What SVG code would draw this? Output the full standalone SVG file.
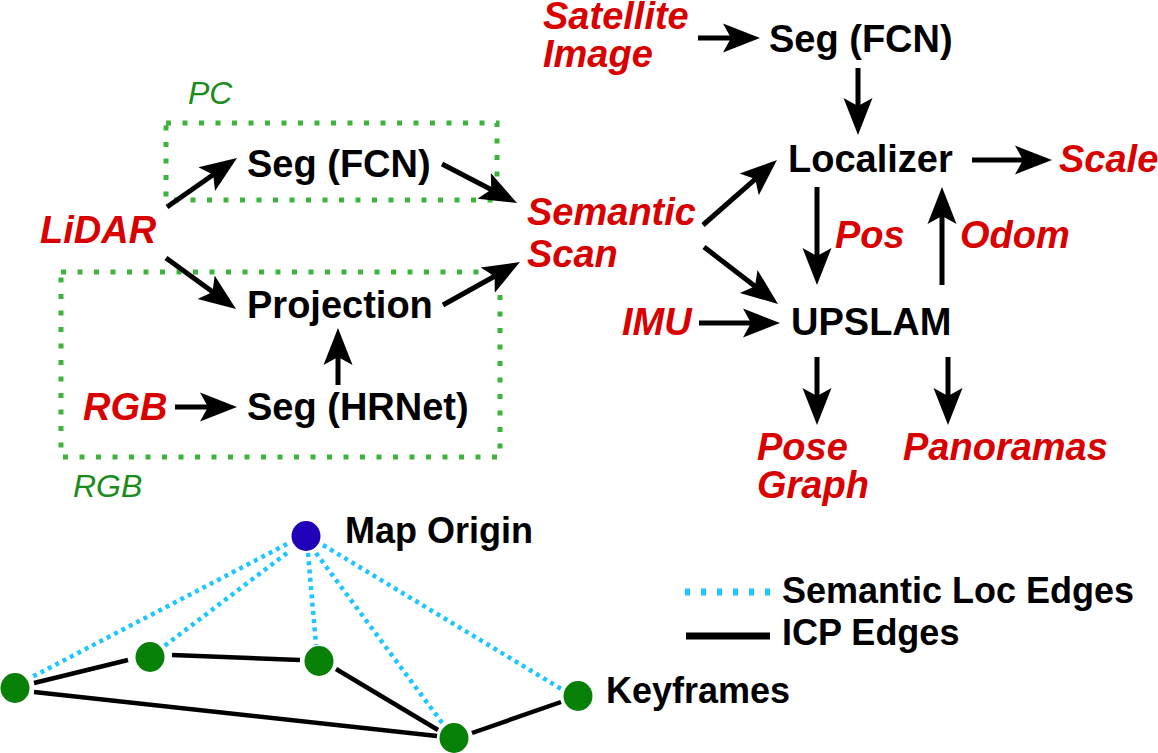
<svg xmlns="http://www.w3.org/2000/svg" width="1158" height="753" viewBox="0 0 1158 753">
<style>
.b{font-family:"Liberation Sans",Arial,sans-serif;font-weight:bold;font-size:38px;fill:#000}
.r{font-family:"Liberation Sans",Arial,sans-serif;font-weight:bold;font-style:italic;font-size:38px;fill:#d90000}
.g{font-family:"Liberation Sans",Arial,sans-serif;font-style:italic;font-size:32px;fill:#1b8c1b}
.lg{font-family:"Liberation Sans",Arial,sans-serif;font-weight:bold;font-size:36px;fill:#000}
.box{fill:none;stroke:#3db33d;stroke-width:5;stroke-dasharray:5 11.5}
.arr{stroke:#000;stroke-width:5;fill:none;marker-end:url(#ah)}
.icp{stroke:#000;stroke-width:4.5;fill:none}
.sem{stroke:#1ec6ff;stroke-width:4.5;fill:none;stroke-dasharray:4 4.3}
.kf{fill:#078007}
</style>
<defs>
<marker id="ah" markerUnits="userSpaceOnUse" viewBox="0 -16 40 32" markerWidth="40" markerHeight="32" refX="10" refY="0" orient="auto">
<path d="M0,-14.5 L37,0 L0,14.5 L8,0 Z" fill="#000"/>
</marker>
</defs>
<rect width="1158" height="753" fill="#fff"/>

<g id="group-pc">
<rect class="box" x="166" y="123" width="331" height="77"/>
<text class="g" x="188" y="104">PC</text>
</g>
<g id="group-rgb">
<rect class="box" x="61" y="272" width="439" height="185"/>
<text class="g" x="73" y="497">RGB</text>
</g>

<g id="connectors">
<line class="arr" x1="698" y1="38" x2="733" y2="38"/>
<line class="arr" x1="858" y1="68" x2="858" y2="108"/>
<line class="arr" x1="972" y1="160" x2="1025" y2="160"/>
<line class="arr" x1="703" y1="225" x2="756.7" y2="177.8"/>
<line class="arr" x1="704" y1="247" x2="756.6" y2="287.5"/>
<line class="arr" x1="817" y1="187" x2="817" y2="258"/>
<line class="arr" x1="942" y1="285" x2="942" y2="214"/>
<line class="arr" x1="699" y1="323" x2="753" y2="323"/>
<line class="arr" x1="817" y1="357" x2="817" y2="398"/>
<line class="arr" x1="948" y1="357" x2="948" y2="398"/>
<line class="arr" x1="167" y1="207" x2="214.9" y2="173.5"/>
<line class="arr" x1="442" y1="164" x2="493" y2="190.5"/>
<line class="arr" x1="166" y1="258" x2="214.2" y2="293.1"/>
<line class="arr" x1="443" y1="305" x2="496.4" y2="275.2"/>
<line class="arr" x1="338" y1="385" x2="338" y2="355"/>
<line class="arr" x1="175" y1="407" x2="210" y2="407"/>
</g>

<g id="satellite"><text class="r" x="543" y="29">Satellite</text><text class="r" x="543" y="67">Image</text></g>
<g id="seg-fcn-top"><text class="b" x="769" y="52">Seg (FCN)</text></g>
<g id="localizer"><text class="b" x="788" y="172">Localizer</text></g>
<g id="scale"><text class="r" x="1059" y="172">Scale</text></g>
<g id="semantic-scan"><text class="r" x="527" y="225">Semantic</text><text class="r" x="527" y="267">Scan</text></g>
<g id="pos"><text class="r" x="835" y="248">Pos</text></g>
<g id="odom"><text class="r" x="960" y="248">Odom</text></g>
<g id="imu"><text class="r" x="622" y="335">IMU</text></g>
<g id="upslam"><text class="b" x="791" y="335">UPSLAM</text></g>
<g id="pose-graph"><text class="r" x="757" y="460">Pose</text><text class="r" x="757" y="498">Graph</text></g>
<g id="panoramas"><text class="r" x="903" y="460">Panoramas</text></g>
<g id="lidar"><text class="r" x="40" y="243">LiDAR</text></g>
<g id="seg-fcn-left"><text class="b" x="247" y="177">Seg (FCN)</text></g>
<g id="projection"><text class="b" x="247" y="318">Projection</text></g>
<g id="rgb-input"><text class="r" x="83" y="420">RGB</text></g>
<g id="seg-hrnet"><text class="b" x="247" y="420">Seg (HRNet)</text></g>

<g id="pose-graph-edges">
<line class="sem" x1="287" y1="544" x2="30" y2="678"/>
<line class="sem" x1="287" y1="553" x2="163" y2="647"/>
<line class="sem" x1="308" y1="553" x2="316" y2="645"/>
<line class="sem" x1="316" y1="553" x2="443" y2="724"/>
<line class="sem" x1="323" y1="545" x2="563" y2="690"/>
<line class="icp" x1="34" y1="683" x2="128" y2="660"/>
<line class="icp" x1="172" y1="655" x2="300" y2="660"/>
<line class="icp" x1="34" y1="692" x2="437" y2="736"/>
<line class="icp" x1="336" y1="669" x2="438" y2="730"/>
<line class="icp" x1="472" y1="733" x2="561" y2="702"/>
</g>
<g id="map-origin">
<ellipse cx="306" cy="536" rx="14.5" ry="15" fill="#2200b8"/>
<text class="lg" x="345" y="543">Map Origin</text>
</g>
<g id="kf1"><ellipse class="kf" cx="15" cy="688" rx="14.5" ry="15"/></g>
<g id="kf2"><ellipse class="kf" cx="150" cy="657" rx="14.5" ry="15"/></g>
<g id="kf3"><ellipse class="kf" cx="319" cy="661" rx="14.5" ry="15"/></g>
<g id="kf4"><ellipse class="kf" cx="454" cy="738" rx="14.5" ry="15"/></g>
<g id="kf5"><ellipse class="kf" cx="578" cy="696" rx="14.5" ry="15"/><text class="lg" x="606" y="703">Keyframes</text></g>

<g id="legend">
<line x1="685" y1="592" x2="770" y2="592" stroke="#1ec6ff" stroke-width="7" stroke-dasharray="5 11"/>
<text class="lg" x="782" y="603">Semantic Loc Edges</text>
<line x1="686" y1="636" x2="770" y2="636" stroke="#000" stroke-width="7"/>
<text class="lg" x="782" y="645">ICP Edges</text>
</g>
</svg>
